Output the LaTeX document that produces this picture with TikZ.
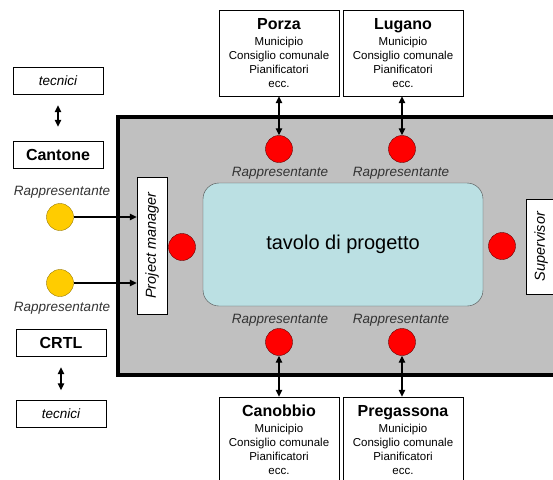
\documentclass[tikz,border=0pt]{standalone}
\usepackage{fontspec}
\setmainfont{Liberation Sans}
\usetikzlibrary{arrows.meta}

\definecolor{grigio}{HTML}{C0C0C0}
\definecolor{azzurro}{HTML}{BBE0E3}
\definecolor{giallo}{HTML}{FFCC00}

\newcommand{\ente}[1]{{\fontsize{16}{18}\selectfont\bfseries #1}\\[2pt] Municipio\\ Consiglio comunale\\ Pianificatori\\ ecc.}

\begin{document}
\begin{tikzpicture}[x=1pt,y=-1pt,
	ente/.style={draw,fill=white,align=center,minimum width=120pt,minimum height=86pt,inner sep=1pt,font=\fontsize{11.5}{14}\selectfont},
	laterale/.style={draw,fill=white,minimum width=90pt,minimum height=27pt,inner sep=0pt},
	ruolo/.style={draw,fill=white,rotate=90,minimum height=30pt,inner sep=0pt,font=\fontsize{14.5}{16}\selectfont\itshape},
	rosso/.style={circle,draw=black!60!red,fill=red,minimum size=27pt,inner sep=0pt},
	rapgiallo/.style={circle,draw=black!40!giallo,fill=giallo,minimum size=27pt,inner sep=0pt},
	etichetta/.style={inner sep=0pt,text=black!80,font=\fontsize{13.5}{15}\selectfont\itshape},
	freccia/.style={{Triangle[length=7pt,width=6.5pt]}-{Triangle[length=7pt,width=6.5pt]},line width=1.2pt},
	punta/.style={-{Triangle[length=7pt,width=6.5pt]},line width=1.2pt}]
	\clip (0,0) rectangle (553,479);

	%tavolo
	\draw[line width=3.5pt,fill=grigio] (118,117) rectangle (570,375);
	\node[draw=black!70,fill=azzurro,rounded corners=16pt,minimum width=280pt,minimum height=123pt,font=\fontsize{20}{22}\selectfont] (tavolo) at (343,244.5) {tavolo di progetto};

	%enti
	\node[ente] (porza) 	 at (279,53)  {\ente{Porza}};
	\node[ente] (lugano) 	 at (403,53)  {\ente{Lugano}};
	\node[ente] (canobbio) 	 at (279,440) {\ente{Canobbio}};
	\node[ente] (pregassona) at (403,440) {\ente{Pregassona}};

	%rappresentanti
	\node[rosso] (rporza) 		at (279,149) {};
	\node[rosso] (rlugano) 		at (402,149) {};
	\node[rosso] (rcanobbio) 	at (279,342) {};
	\node[rosso] (rpregassona) 	at (402,342) {};
	\node[rosso] (rpm) 			at (182,247) {};
	\node[rosso] (rsup) 		at (502,246) {};
	\node[etichetta] (lporza) 		at (280,173) {Rappresentante};
	\node[etichetta] (llugano) 		at (401,173) {Rappresentante};
	\node[etichetta] (lcanobbio) 	at (280,320) {Rappresentante};
	\node[etichetta] (lpregassona) 	at (401,320) {Rappresentante};

	%ruoli
	\node[ruolo,minimum width=137pt] (pm)  at (152,245.5) {Project manager};
	\node[ruolo,minimum width=95pt]  (sup) at (541,246.5) {Supervisor};

	%sinistra
	\node[laterale,font=\fontsize{13.5}{15}\selectfont\itshape] (tecnicisu) 	at (58,81)    {tecnici};
	\node[laterale,font=\fontsize{16}{18}\selectfont\bfseries] (cantone) 	at (58,155)   {Cantone};
	\node[laterale,font=\fontsize{16}{18}\selectfont\bfseries] (crtl) 		at (61,342.5) {CRTL};
	\node[laterale,font=\fontsize{13.5}{15}\selectfont\itshape] (tecnicigiu) 	at (61,414)   {tecnici};
	\node[etichetta] (lcantone) at (62,192) {Rappresentante};
	\node[rapgiallo] (ycantone) at (60,217) {};
	\node[rapgiallo] (ycrtl) 	at (60,283) {};
	\node[etichetta] (lcrtl) 	at (62,308) {Rappresentante};

	%frecce
	\draw[freccia] (porza) -- (rporza);
	\draw[freccia] (lugano.south -| rlugano) -- (rlugano);
	\draw[freccia] (rcanobbio) -- (canobbio);
	\draw[freccia] (rpregassona) -- (pregassona.north -| rpregassona);
	\draw[freccia,shorten <=10.5pt,shorten >=14.5pt] (tecnicisu) -- (cantone);
	\draw[freccia,shorten <=11pt,shorten >=10pt] (crtl) -- (tecnicigiu);
	\draw[punta] (ycantone) -- (ycantone -| pm.north);
	\draw[punta] (ycrtl) -- (ycrtl -| pm.north);
\end{tikzpicture}
\end{document}
